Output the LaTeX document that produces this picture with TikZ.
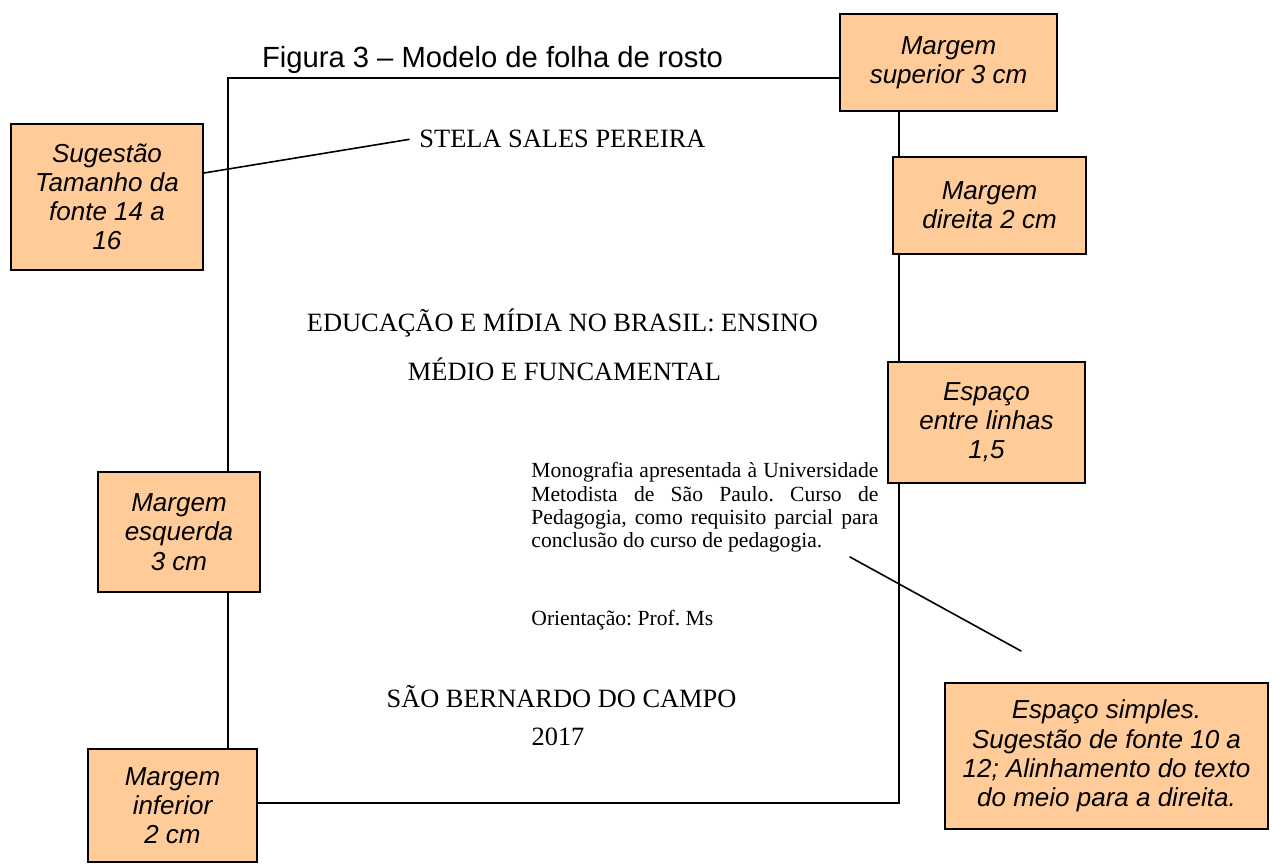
\documentclass[tikz,border=0pt]{standalone}
\usepackage{fontspec}
\setmainfont{Liberation Serif}
\newfontfamily\arialfont{Liberation Sans}
\usepackage{color}
\definecolor{notefill}{HTML}{FFCC99}
\hyphenpenalty=10000
\tolerance=9999
\frenchspacing

\begin{document}
\begin{tikzpicture}
	[x=0.5pt,y=-0.5pt,line cap=round,
	%Styles
	margin line/.style={line width=1pt},
	pointer line/.style={line width=0.8pt},
	note/.style={draw,line width=1pt,fill=notefill,align=center,inner sep=0pt,
		font=\arialfont\itshape\fontsize{13}{14.6}\selectfont},
	caption text/.style={anchor=base,inner sep=0pt,font=\arialfont\fontsize{14.6}{16}\selectfont},
	title text/.style={anchor=base,inner sep=0pt,font=\fontsize{13.2}{15}\selectfont},
	small text/.style={inner sep=0pt,font=\fontsize{10.8}{11.7}\selectfont}
	]
	\useasboundingbox (0,0) rectangle (1272,865);
	
	%The notes
	\node[note,minimum width=108.5pt,minimum height=48.5pt] (sup) at (948.5,62.5) {Margem\\superior 3 cm};
	\node[note,minimum width=96.5pt,minimum height=48.5pt] (dir) at (989.5,205.5) {Margem\\direita 2 cm};
	\node[note,minimum width=96pt,minimum height=73pt] (sug) at (107,197) {Sugestão\\Tamanho da\\fonte 14 a\\16};
	\node[note,minimum width=98.5pt,minimum height=60.5pt] (esp) at (986.5,422.5) {Espaço\\entre linhas\\1,5};
	\node[note,minimum width=81pt,minimum height=60pt] (esq) at (179,532) {Margem\\esquerda\\3 cm};
	\node[note,minimum width=84.5pt,minimum height=56.5pt] (inf) at (172.5,805.5) {Margem\\inferior\\2 cm};
	\node[note,minimum width=161.5pt,minimum height=73pt] (simp) at (1106.5,756) {Espaço simples.\\Sugestão de fonte 10 a\\12; Alinhamento do texto\\do meio para a direita.};
	
	%The page
	\coordinate (tl) at (228,78);
	\coordinate (br) at (899,803);
	\draw[margin line] (sup.west |- tl) -- (tl) -- (esq.north -| tl);
	\draw[margin line] (esq.south -| tl) -- (inf.north -| tl);
	\draw[margin line] (inf.east |- br) -- (br) -- (esp.south -| br);
	\draw[margin line] (esp.north -| br) -- (dir.south -| br);
	\draw[margin line] (dir.north -| br) -- (sup.south -| br);
	
	%The texts
	\node[caption text] (fig) at (492.5,68) {Figura 3 – Modelo de folha de rosto};
	\node[title text] (stela) at (562.5,148) {STELA SALES PEREIRA};
	\node[title text] (edu1) at (562.5,332) {EDUCAÇÃO E MÍDIA NO BRASIL: ENSINO};
	\node[title text] (edu2) at (564.5,380) {MÉDIO E FUNCAMENTAL};
	\node[small text,text width=173.5pt,align=justify,anchor=north west] (mono) at (531,462)
		{Monografia apresentada à Universidade Metodista de São Paulo. Curso de Pedagogia, como requisito parcial para conclusão do curso de pedagogia.};
	\node[small text,anchor=base west] (ori) at (531,625) {Orientação: Prof. Ms};
	\node[title text] (city) at (561.5,707) {SÃO BERNARDO DO CAMPO};
	\node[title text] (year) at (558,745) {2017};
	
	%Pointers
	\draw[pointer line] ([yshift=12pt]sug.east) -- ([xshift=-5pt]stela.west);
	\coordinate (mp1) at (850,557);
	\coordinate (mp2) at (1021,651);
	\draw[pointer line] (mp1) -- (mp2);
\end{tikzpicture}
\end{document}
